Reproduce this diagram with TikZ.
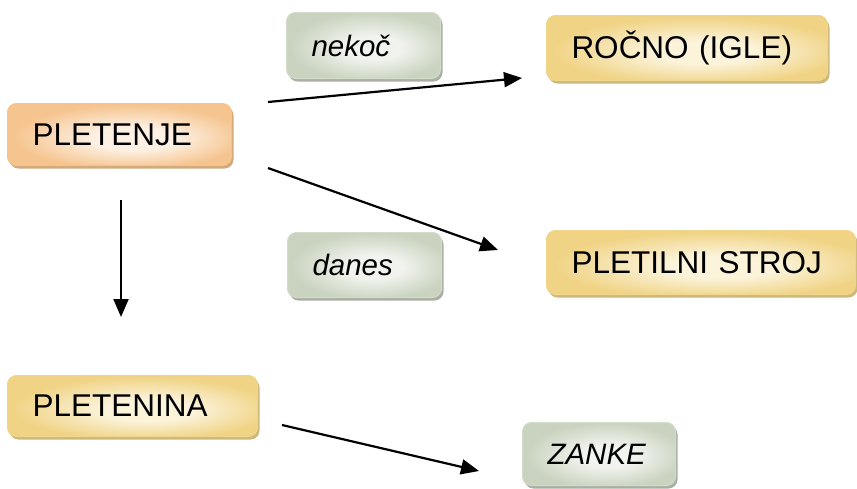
\documentclass[tikz,border=0pt]{standalone}
\usepackage{fontspec}
\setmainfont{Liberation Sans}
\usetikzlibrary{arrows.meta,shadows}
\definecolor{orBorder}{HTML}{F3C38B}
\definecolor{orDark}{HTML}{F6C48E}
\definecolor{orLight}{HTML}{FDF1E4}
\definecolor{orShadow}{HTML}{D2A97C}
\definecolor{goBorder}{HTML}{EFD68A}
\definecolor{goDark}{HTML}{F0D384}
\definecolor{goLight}{HTML}{FBF3DA}
\definecolor{goShadow}{HTML}{CDB77A}
\definecolor{grBorder}{HTML}{D3DBCB}
\definecolor{grDark}{HTML}{C9D3BF}
\definecolor{grLight}{HTML}{F1F3EE}
\definecolor{grShadow}{HTML}{A9B0A3}
\pgfdeclareradialshading{orshade}{\pgfpoint{4bp}{-4bp}}{color(0bp)=(orLight); color(9bp)=(orLight); color(26bp)=(orDark); color(50bp)=(orDark)}
\pgfdeclareradialshading{goshade}{\pgfpoint{4bp}{-4bp}}{color(0bp)=(goLight); color(9bp)=(goLight); color(26bp)=(goDark); color(50bp)=(goDark)}
\pgfdeclareradialshading{grshade}{\pgfpoint{4bp}{-2bp}}{color(0bp)=(grLight); color(9bp)=(grLight); color(26bp)=(grDark); color(50bp)=(grDark)}
\tikzset{
  boxbase/.style={rounded corners=9pt, line width=1pt, inner xsep=25pt, inner ysep=0pt,
    align=left, anchor=north west},
  orangebox/.style={boxbase, draw=orBorder, shading=orshade,
    drop shadow={shadow xshift=2pt, shadow yshift=-3pt, fill=orShadow, opacity=1},
    font=\fontsize{31.5}{36}\selectfont},
  goldbox/.style={boxbase, draw=goBorder, shading=goshade,
    drop shadow={shadow xshift=2pt, shadow yshift=-3pt, fill=goShadow, opacity=1},
    font=\fontsize{31.5}{36}\selectfont},
  greenbox/.style={boxbase, draw=grBorder, shading=grshade,
    drop shadow={shadow xshift=2pt, shadow yshift=-3pt, fill=grShadow, opacity=1},
    font=\fontsize{29.5}{34}\selectfont\itshape},
  conn/.style={line width=2.2pt, -{Triangle[length=18pt,width=15pt]}}
}
\newcommand{\mybox}[7]{% style, name, x, y, w, h, text
  \node[#1, minimum height=#6pt, text width=#5pt-50pt] (#2) at (#3,#4) {#7};}
\begin{document}
\begin{tikzpicture}[x=1pt,y=-1pt]
\useasboundingbox (0,0) rectangle (857,488);
\mybox{orangebox}{pletenje}{7}{103}{224}{62}{PLETENJE}
\mybox{greenbox}{nekoc}{286}{12}{154}{66}{nekoč}
\mybox{goldbox}{rocno}{546}{15}{281}{65}{ROČNO (IGLE)}
\mybox{greenbox}{danes}{287}{232}{154}{65}{danes}
\mybox{goldbox}{stroj}{546}{230}{309}{64}{PLETILNI STROJ}
\mybox{goldbox}{pletenina}{7}{375}{250}{61}{PLETENINA}
\mybox{greenbox}{zanke}{522}{422}{153}{63}{ZANKE}
\coordinate (a1s) at (268,102);
\coordinate (a1e) at (522,78);
\coordinate (a2s) at (268,168);
\coordinate (a2e) at (498,250);
\coordinate (a3s) at (121,200);
\coordinate (a3e) at (121,317);
\coordinate (a4s) at (282,425);
\coordinate (a4e) at (479,471);
\draw[conn] (a1s) -- (a1e);
\draw[conn] (a2s) -- (a2e);
\draw[conn] (a3s) -- (a3e);
\draw[conn] (a4s) -- (a4e);
\end{tikzpicture}
\end{document}
